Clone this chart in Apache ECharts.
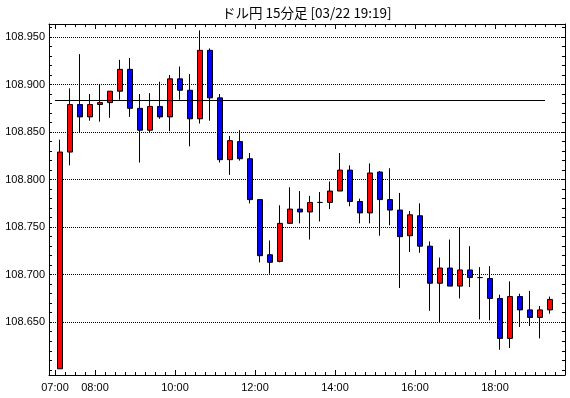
<!DOCTYPE html>
<html>
<head>
<meta charset="utf-8">
<script src="https://cdn.jsdelivr.net/npm/echarts@6/dist/echarts.min.js"></script>
<style>
html, body { margin: 0; padding: 0; background: #fff; }
#chart { width: 570px; height: 398px; }
</style>
</head>
<body>
<div id="chart"></div>
<script>
// ドル円 15分足
var chartTitle = 'ドル円 15分足 [03/22 19:19]';

var times = ['07:00','07:15','07:30','07:45','08:00','08:15','08:30','08:45','09:00','09:15',
             '09:30','09:45','10:00','10:15','10:30','10:45','11:00','11:15','11:30','11:45',
             '12:00','12:15','12:30','12:45','13:00','13:15','13:30','13:45','14:00','14:15',
             '14:30','14:45','15:00','15:15','15:30','15:45','16:00','16:15','16:30','16:45',
             '17:00','17:15','17:30','17:45','18:00','18:15','18:30','18:45','19:00','19:15'];

var opens  = [108.601,108.829,108.879,108.866,108.879,108.881,108.893,108.916,108.875,108.852,
              108.877,108.866,108.906,108.894,108.864,108.936,108.886,108.821,108.840,108.822,
              108.779,108.721,108.714,108.754,108.769,108.766,108.776,108.776,108.788,108.810,
              108.777,108.765,108.808,108.779,108.768,108.741,108.762,108.730,108.691,108.707,
              108.688,108.705,108.697,108.696,108.675,108.633,108.677,108.663,108.655,108.663];
var closes = [108.829,108.879,108.866,108.879,108.881,108.893,108.916,108.875,108.852,108.877,
              108.866,108.906,108.894,108.864,108.936,108.886,108.821,108.841,108.822,108.779,
              108.720,108.713,108.754,108.769,108.766,108.776,108.776,108.788,108.810,108.777,
              108.765,108.807,108.779,108.768,108.740,108.763,108.730,108.691,108.707,108.688,
              108.705,108.697,108.697,108.675,108.633,108.677,108.663,108.655,108.663,108.674];
var lows   = [108.601,108.815,108.850,108.862,108.861,108.865,108.884,108.866,108.818,108.850,
              108.864,108.851,108.884,108.835,108.859,108.862,108.818,108.805,108.820,108.775,
              108.713,108.701,108.713,108.754,108.754,108.737,108.756,108.769,108.788,108.772,
              108.754,108.754,108.741,108.752,108.686,108.724,108.723,108.662,108.650,108.688,
              108.675,108.687,108.653,108.652,108.621,108.623,108.645,108.646,108.633,108.659];
var highs  = [108.842,108.896,108.932,108.890,108.900,108.893,108.926,108.928,108.890,108.891,
              108.903,108.910,108.919,108.911,108.957,108.938,108.890,108.846,108.852,108.828,
              108.779,108.736,108.773,108.792,108.788,108.783,108.787,108.798,108.828,108.815,
              108.780,108.817,108.809,108.812,108.786,108.767,108.775,108.735,108.718,108.737,
              108.750,108.730,108.708,108.709,108.679,108.693,108.680,108.683,108.667,108.677];

var refPrice = 108.884;   // 横線
var xLabels = ['07:00','08:00','10:00','12:00','14:00','16:00','18:00'];
var yLabels = [108.650, 108.700, 108.750, 108.800, 108.850, 108.900, 108.950];

function toMin(s) {
  var p = s.split(':');
  return (+p[0] - 7) * 60 + (+p[1]);
}
function fmtTime(v) {
  var h = Math.floor(v / 60) + 7, m = v % 60;
  return (h < 10 ? '0' : '') + h + ':' + (m < 10 ? '0' : '') + m;
}

var xMin = -9, xMax = 765;
var yMin = 108.5945, yMax = 108.9637;

var candles = times.map(function (t, i) {
  return [toMin(t) + 7.5, opens[i], closes[i], lows[i], highs[i]];
});

// 目盛り
var xMinor = [];
for (var m = 0; m <= 750; m += 15) xMinor.push(m);
var xMajor = xLabels.map(toMin);
var yMinor = [];
for (var k = 0; k <= 36; k++) yMinor.push(+(108.60 + k * 0.01).toFixed(2));

var black = '#000';
var font = 'Liberation Sans';

function xAxisOf(pos, ticks, len, showLine, showLabel) {
  return {
    type: 'value', position: pos, min: xMin, max: xMax,
    axisLine: { show: showLine, onZero: false, lineStyle: { color: black, width: 1 } },
    axisTick: { show: true, inside: true, length: len, customValues: ticks, lineStyle: { color: black } },
    axisLabel: {
      show: showLabel, customValues: xMajor, formatter: fmtTime,
      color: black, fontSize: 11, fontFamily: font, margin: 7
    },
    splitLine: { show: false }
  };
}
function yAxisOf(pos, ticks, showLine, showLabel, showSplit) {
  return {
    type: 'value', position: pos, min: yMin, max: yMax,
    axisLine: { show: showLine, onZero: false, lineStyle: { color: black, width: 1 } },
    axisTick: { show: true, inside: true, length: 3, customValues: ticks, lineStyle: { color: black } },
    axisLabel: {
      show: showLabel, customValues: yLabels,
      formatter: function (v) { return v.toFixed(3); },
      color: black, fontSize: 11, fontFamily: font, margin: 4
    },
    splitLine: { show: showSplit, lineStyle: { color: black, width: 1, type: [1, 1] } }
  };
}

var myChart = echarts.init(document.getElementById('chart'));
var option = {
  animation: false,
  backgroundColor: '#fff',
  title: {
    text: chartTitle, left: 222, top: 6, padding: 0,
    textStyle: { fontSize: 13.5, fontWeight: 'normal', color: black, fontFamily: 'Noto Sans CJK JP' }
  },
  grid: { left: 49, right: 5, top: 24, bottom: 23, containLabel: false },
  xAxis: [
    xAxisOf('bottom', xMinor, 3, true, true),
    xAxisOf('bottom', xMajor, 5, false, false),
    xAxisOf('top', xMinor, 3, true, false),
    xAxisOf('top', xMajor, 5, false, false)
  ],
  yAxis: [
    yAxisOf('left', yLabels, true, true, true),
    yAxisOf('left', yMinor, false, false, false),
    yAxisOf('right', yMinor, true, false, false)
  ],
  series: [{
    type: 'candlestick',
    xAxisIndex: 0, yAxisIndex: 0,
    data: candles,
    encode: { x: 0, y: [1, 2, 3, 4] },
    barWidth: 5,
    silent: true,
    itemStyle: {
      color: '#ff0000', color0: '#0000ff',
      borderColor: black, borderColor0: black, borderColorDoji: black, borderWidth: 1
    },
    markLine: {
      silent: true, symbol: 'none', label: { show: false },
      lineStyle: { color: black, width: 1, type: 'solid' },
      data: [[{ coord: [toMin(times[0]), refPrice] }, { coord: [toMin(times[times.length - 1]), refPrice] }]]
    }
  }]
};
myChart.setOption(option);
</script>
</body>
</html>
